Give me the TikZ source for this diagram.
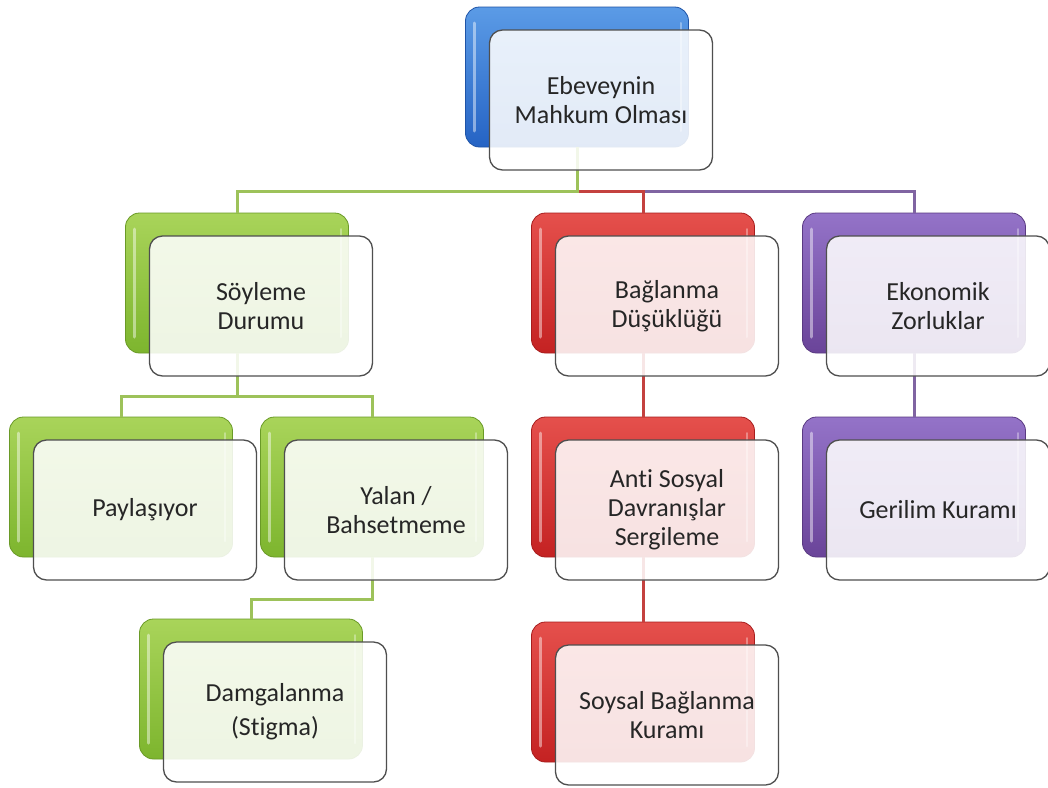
\documentclass[tikz,border=0pt]{standalone}
\usepackage{fontspec}
\setmainfont{Carlito}[Ligatures=NoCommon]
\usetikzlibrary{calc}
\definecolor{blueT}{HTML}{5B9BE6}
\definecolor{blueB}{HTML}{2563C4}
\definecolor{greenT}{HTML}{A9D45A}
\definecolor{greenB}{HTML}{7DB52E}
\definecolor{redT}{HTML}{E5504C}
\definecolor{redB}{HTML}{C42222}
\definecolor{purpT}{HTML}{9473C8}
\definecolor{purpB}{HTML}{6A4499}
\definecolor{greenL}{HTML}{9DC25A}
\definecolor{redL}{HTML}{C4413F}
\definecolor{purpL}{HTML}{8064A2}
\definecolor{txt}{HTML}{262626}
\definecolor{edge}{HTML}{4F4F4F}
\pgfdeclarelayer{bgl}
\pgfdeclarelayer{backl}
\pgfdeclarelayer{connl}
\pgfsetlayers{bgl,backl,connl,main}
\tikzset{
  backbox/.style={minimum width=223pt, minimum height=140pt, inner sep=0pt, outer sep=0pt,
    rounded corners=14pt, draw=#1B!85!black, line width=0.8pt, top color=#1T, bottom color=#1B,
    path picture={
      \draw[white, opacity=0.45, line width=3pt, line cap=round]
        ([xshift=9pt,yshift=-16pt]path picture bounding box.north west) --
        ([xshift=9pt,yshift=16pt]path picture bounding box.south west);
      \draw[white, opacity=0.35, line width=2pt, line cap=round]
        ([xshift=-8pt,yshift=-16pt]path picture bounding box.north east) --
        ([xshift=-8pt,yshift=16pt]path picture bounding box.south east);
    }},
  frontbox/.style={minimum width=223pt, minimum height=140pt, inner sep=0pt, outer sep=0pt,
    rounded corners=13pt, draw=edge, line width=1.3pt, fill=white, fill opacity=0.87,
    text opacity=1, text=txt, align=center, font=\fontsize{26}{29}\selectfont},
  connline/.style={line width=3pt, draw=#1},
}
\newcommand\tbox[5]{%
  \begin{pgfonlayer}{backl}
    \node[backbox=#4] (#1b) at ({#2},{#3+70}) {};
  \end{pgfonlayer}
  \node[frontbox] (#1) at ({#2+24},{#3+93}) {#5};
}
\newcommand\conn[3]{%
  \begin{pgfonlayer}{connl}
    \coordinate (#2m) at ($(#1.south)!0.5!(#2b.north)$);
    \draw[connline=#3] (#1b.south) -- (#1b.south |- #2m) -| (#2b.north);
  \end{pgfonlayer}
}
\begin{document}
\begin{tikzpicture}[x=1pt,y=-1pt]
\begin{pgfonlayer}{bgl}
\fill[white] (0,0) rectangle (1048,787);
\end{pgfonlayer}
\useasboundingbox (0,0) rectangle (1048,787);
\tbox{root}{577}{7}{blue}{Ebeveynin\\Mahkum Olması}
\tbox{soy}{237}{213}{green}{Söyleme\\Durumu}
\tbox{bag}{643}{213}{red}{Bağlanma\\Düşüklüğü}
\tbox{eko}{914}{213}{purp}{Ekonomik\\Zorluklar}
\tbox{pay}{121}{417}{green}{Paylaşıyor}
\tbox{yal}{372}{417}{green}{Yalan /\\Bahsetmeme}
\tbox{anti}{643}{417}{red}{Anti Sosyal\\Davranışlar\\Sergileme}
\tbox{ger}{914}{417}{purp}{Gerilim Kuramı}
\tbox{dam}{251}{619}{green}{Damgalanma\\[5pt](Stigma)}
\tbox{sbk}{643}{622}{red}{Soysal Bağlanma\\Kuramı}
\conn{root}{eko}{purpL}
\conn{root}{bag}{redL}
\conn{root}{soy}{greenL}
\conn{soy}{pay}{greenL}
\conn{soy}{yal}{greenL}
\conn{yal}{dam}{greenL}
\conn{bag}{anti}{redL}
\conn{anti}{sbk}{redL}
\conn{eko}{ger}{purpL}
\end{tikzpicture}
\end{document}
